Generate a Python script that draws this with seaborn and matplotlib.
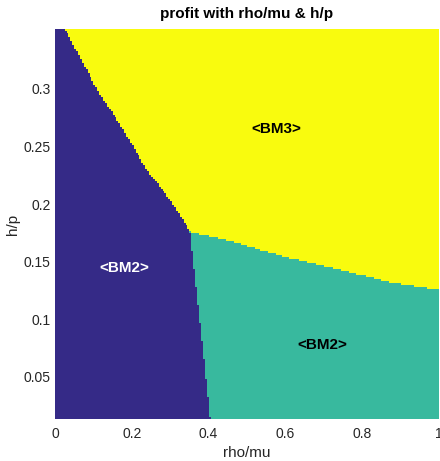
import numpy as np
import pandas as pd
import matplotlib
matplotlib.use("Agg")
import matplotlib.pyplot as plt
from matplotlib.colors import ListedColormap
import seaborn as sns

# Region boundaries in (rho/mu, h/p) space
# dark (BM2) / yellow (BM3) boundary, top to bottom
dy_rho = [0.026, 0.117, 0.170, 0.239, 0.300, 0.352]
dy_hp = [0.352, 0.295, 0.269, 0.2297, 0.2036, 0.176]
# dark (BM2) / teal (BM2) boundary
dt_rho = [0.352, 0.380, 0.403]
dt_hp = [0.176, 0.090, 0.0135]
# teal (BM2) / yellow (BM3) boundary
ty_rho = [0.352, 0.457, 0.601, 0.744, 0.875, 1.003]
ty_hp = [0.176, 0.168, 0.154, 0.143, 0.132, 0.1255]

triple_hp = 0.176

# grid extents
x_edges = np.linspace(0.0, 1.0, 201)
y_edges = np.linspace(0.0135, 0.352, 196)
x_c = 0.5 * (x_edges[:-1] + x_edges[1:])
y_c = 0.5 * (y_edges[:-1] + y_edges[1:])[::-1]  # rows top to bottom

X, Y = np.meshgrid(x_c, y_c)
left_upper = np.interp(Y, dy_hp[::-1], dy_rho[::-1])
left_lower = np.interp(Y, dt_hp[::-1], dt_rho[::-1])
ty_curve = np.interp(X, ty_rho, ty_hp)

region = np.where(
    Y >= triple_hp,
    np.where(X < left_upper, 0, 2),
    np.where(X < left_lower, 0, np.where(Y > ty_curve, 2, 1)),
)

df = pd.DataFrame(region, index=np.round(y_c, 4), columns=np.round(x_c, 4))

colors = ["#352A87", "#38B99E", "#F9FB0E"]
cmap = ListedColormap(colors)

fig = plt.figure(figsize=(4.4, 4.61), dpi=100)
ax = fig.add_axes([55 / 440, 42 / 461, 384 / 440, 390 / 461])
sns.heatmap(df, ax=ax, cmap=cmap, vmin=-0.5, vmax=2.5, cbar=False,
            xticklabels=False, yticklabels=False)

dx = x_edges[1] - x_edges[0]
dyy = y_edges[1] - y_edges[0]


def col(v):
    return (np.asarray(v) - x_edges[0]) / dx


def row(v):
    return (y_edges[-1] - np.asarray(v)) / dyy


font = "Liberation Sans"
tick_color = "#262626"

x_ticks = [0, 0.2, 0.4, 0.6, 0.8, 1.0]
x_tick_labels = ["0", "0.2", "0.4", "0.6", "0.8", "1"]
y_ticks = [0.05, 0.1, 0.15, 0.2, 0.25, 0.3]
y_tick_labels = ["0.05", "0.1", "0.15", "0.2", "0.25", "0.3"]

ax.set_xticks(col(x_ticks))
ax.set_xticklabels(x_tick_labels, fontsize=10, family=font, color=tick_color)
ax.set_yticks(row(y_ticks))
ax.set_yticklabels(y_tick_labels, fontsize=10, family=font, color=tick_color,
                   rotation=0)
ax.tick_params(axis="x", length=0, pad=6)
ax.tick_params(axis="y", length=0, pad=3)
ax.set_xlim(0, len(x_c))
ax.set_ylim(len(y_c), 0)
for s in ax.spines.values():
    s.set_visible(False)

ax.set_xlabel("rho/mu", fontsize=11, family=font, color=tick_color, labelpad=3)
ax.set_ylabel("h/p", fontsize=11, family=font, color=tick_color, labelpad=3)
ax.set_title("profit with rho/mu & h/p", fontsize=11, family=font,
             fontweight="bold", pad=8)

# region annotations
labels = ["<BM3>", "<BM2>", "<BM2>"]
label_rho = [0.577, 0.180, 0.695]
label_hp = [0.265, 0.1446, 0.0777]
label_colors = ["black", "white", "black"]
for t, xv, yv, c in zip(labels, label_rho, label_hp, label_colors):
    ax.text(col(xv), row(yv), t, ha="center", va="center", fontsize=11,
            family=font, fontweight="bold", color=c)

fig.savefig("out.png", dpi=100)
